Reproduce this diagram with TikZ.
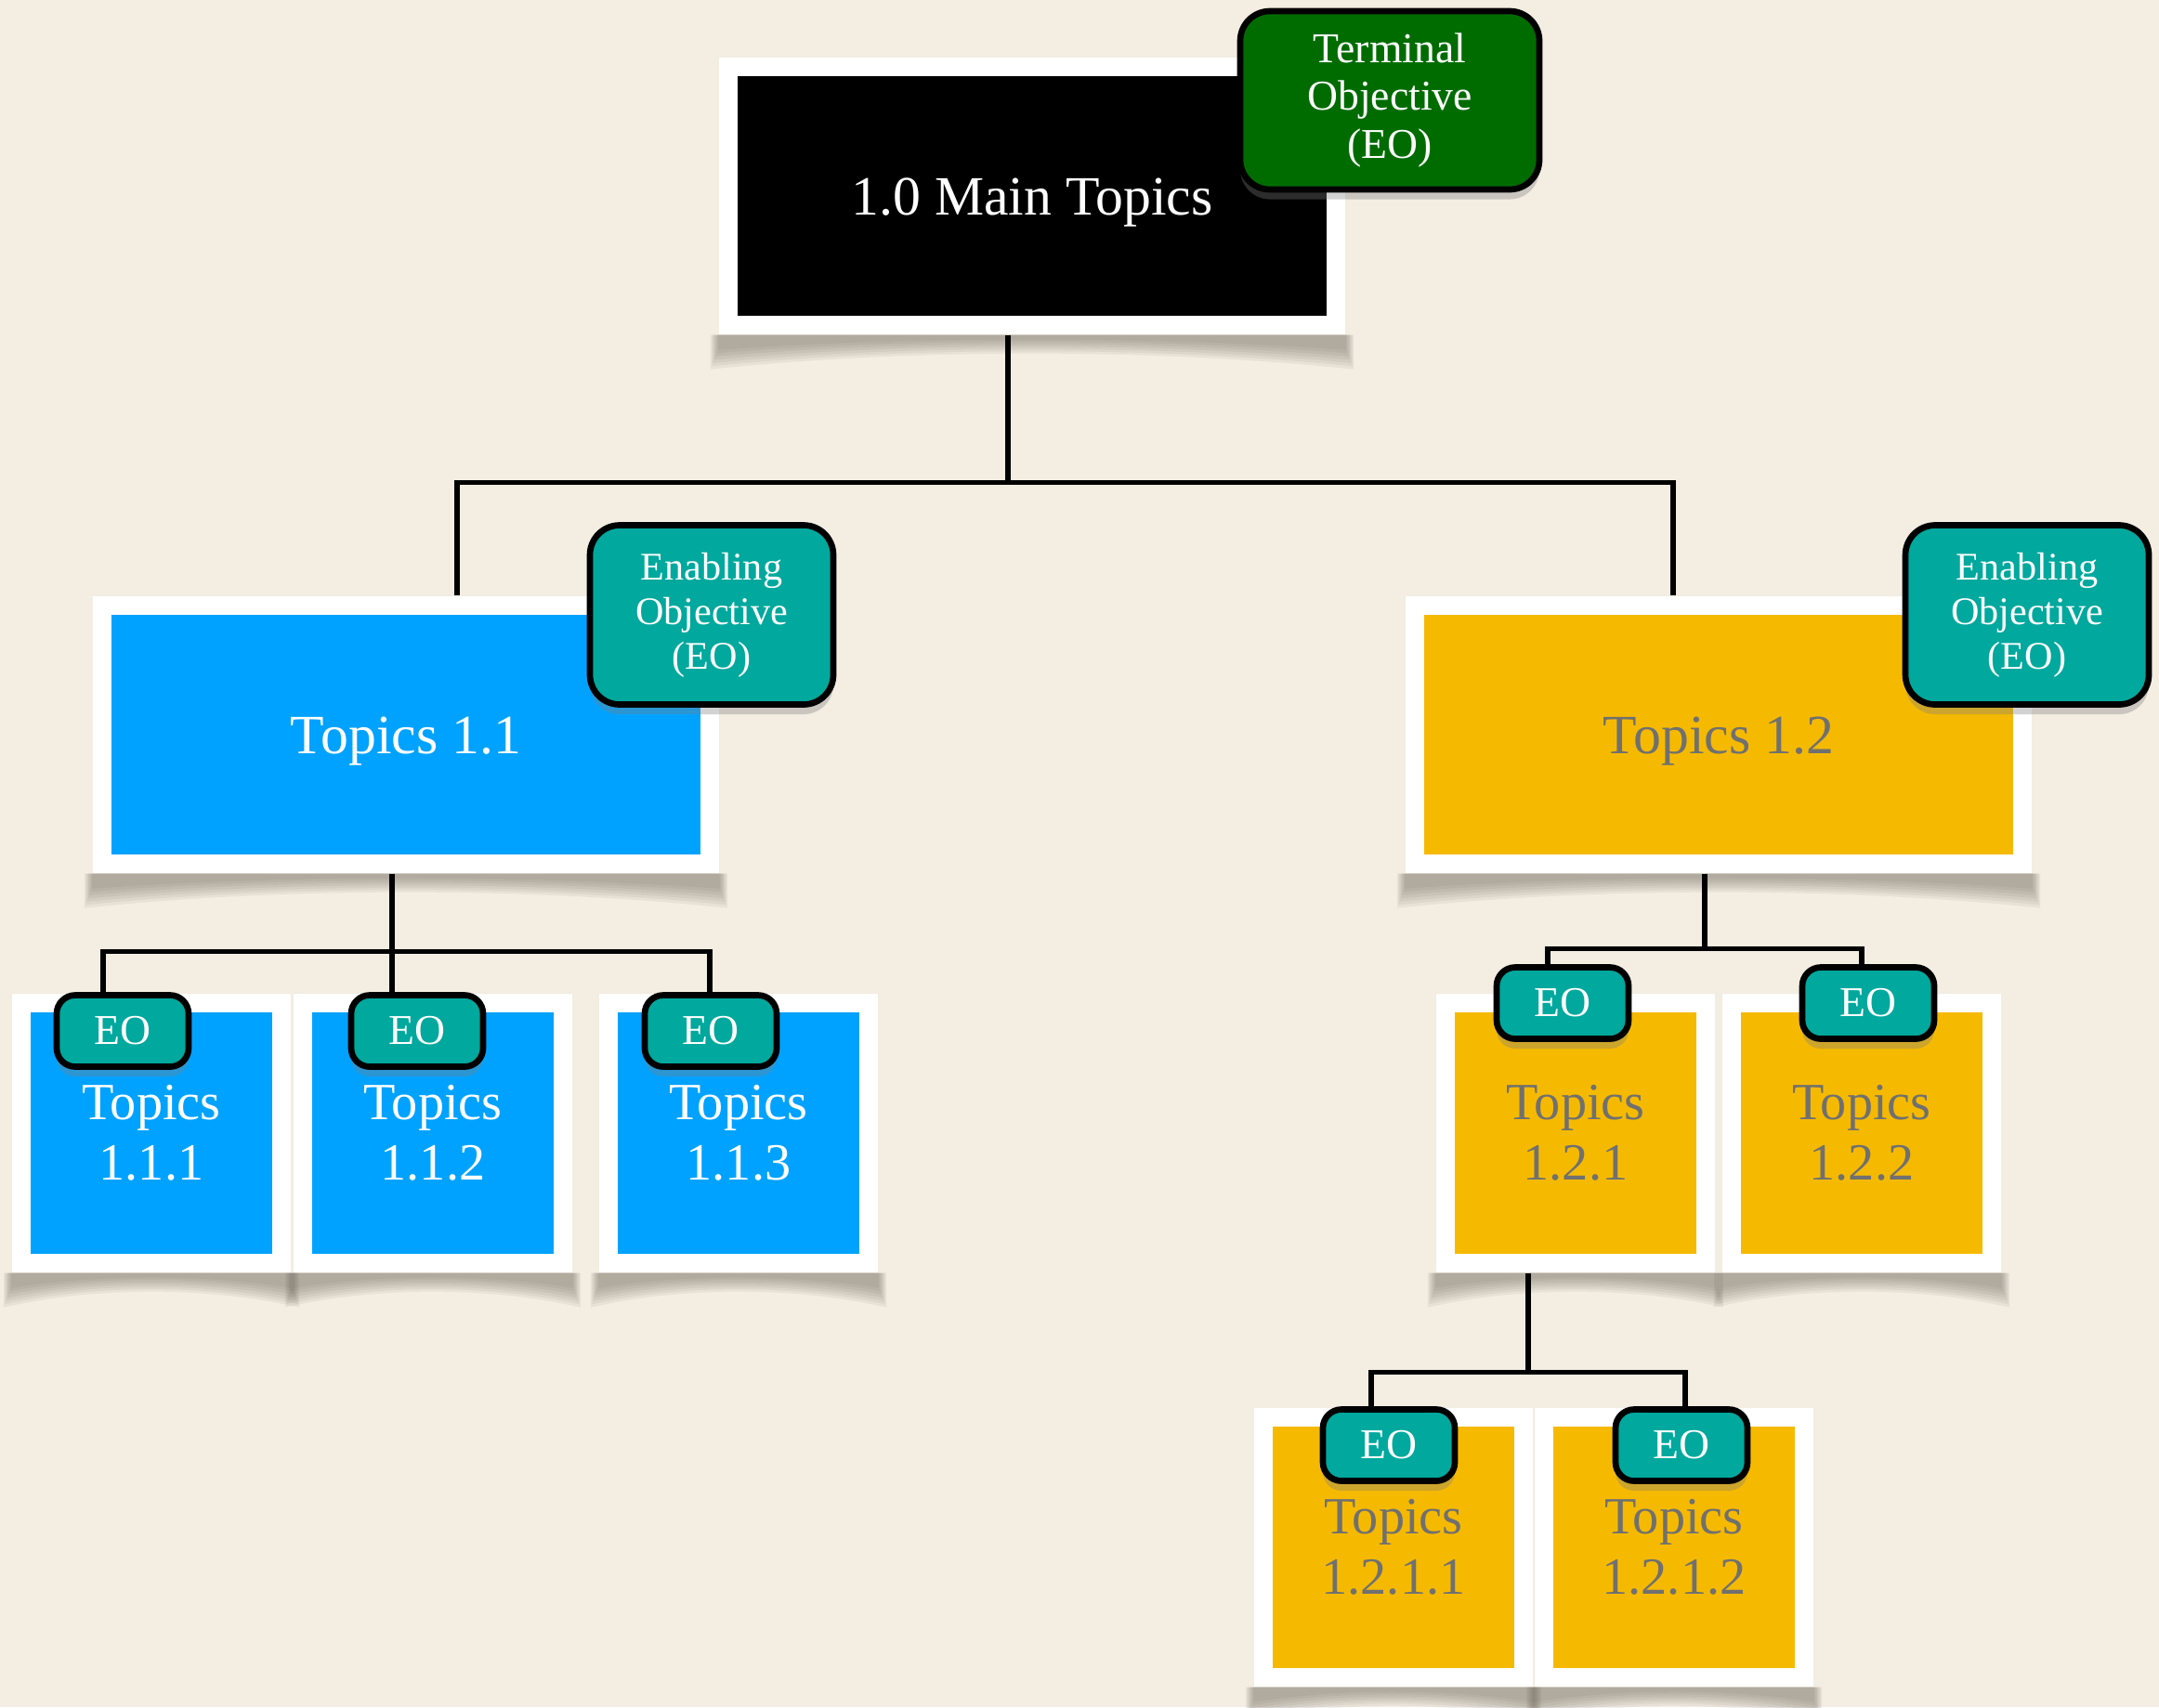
\documentclass[tikz,border=0pt]{standalone}
\usepackage{fontspec}
\setmainfont{Liberation Serif}
\usetikzlibrary{calc,shadows}
\definecolor{paper}{RGB}{243,237,226}
\definecolor{topicblue}{RGB}{0,162,255}
\definecolor{topicgold}{RGB}{245,186,0}
\definecolor{eoteal}{RGB}{0,168,157}
\definecolor{togreen}{RGB}{0,108,0}
\definecolor{inkgray}{RGB}{112,112,112}
\definecolor{curlgray}{RGB}{95,88,78}
\pgfdeclarelayer{bg}
\pgfdeclarelayer{shade}
\pgfsetlayers{bg,shade,main}

\tikzset{
  link/.style={line width=1.5pt},
  bigframe/.style={fill=white, inner sep=0pt, minimum width=6.74cm, minimum height=2.98cm},
  smallframe/.style={fill=white, inner sep=0pt, minimum width=3cm, minimum height=3cm},
  bigcard/.style={inner sep=0pt, minimum width=6.34cm, minimum height=2.58cm, text height=15.6pt, text depth=3.7pt, font=\fontsize{17}{20}\selectfont},
  smallcard/.style={inner sep=0pt, minimum width=2.6cm, minimum height=2.6cm, align=center, font=\fontsize{16}{18.5}\selectfont},
  bluecard/.style={fill=topicblue, text=white},
  goldcard/.style={fill=topicgold, text=inkgray},
  objbox/.style={draw=black, line width=1.9pt, rounded corners=0.32cm, text=white, align=center, inner sep=0pt,
    drop shadow={shadow xshift=0pt, shadow yshift=-3pt, opacity=.35}},
  bigobj/.style={objbox, fill=eoteal, minimum width=2.62cm, minimum height=1.93cm, font=\fontsize{12}{13.7}\selectfont},
  tag/.style={objbox, fill=eoteal, rounded corners=0.2cm, minimum width=1.42cm, minimum height=0.77cm, font=\fontsize{13}{15}\selectfont},
  curl/.style={fill=curlgray, opacity=.08}
}

\begin{document}
\begin{tikzpicture}
  \useasboundingbox (0,0) rectangle (23.24,-18.38);
  \begin{pgfonlayer}{bg}
    \fill[paper] (0,0) rectangle (23.24,-18.38);
  \end{pgfonlayer}

  % main topic
  \node[bigframe] (f0) at (11.11,-2.11) {};
  \node[bigcard, fill=black, text=white] (t0) at (f0) {1.0 Main Topics};
  \node[objbox, fill=togreen, minimum width=3.22cm, minimum height=1.92cm, font=\fontsize{13}{14.6}\selectfont] (to) at (14.96,-1.08) {Terminal\\Objective\\(EO)};

  % second level
  \node[bigframe] (f11) at (4.37,-7.91) {};
  \node[bigcard, bluecard] (t11) at (f11) {Topics 1.1};
  \node[bigobj] (e11) at (7.66,-6.62) {Enabling\\Objective\\(EO)};

  \node[bigframe] (f12) at (18.50,-7.91) {};
  \node[bigcard, goldcard] (t12) at (f12) {Topics 1.2};
  \node[bigobj] (e12) at (21.82,-6.62) {Enabling\\Objective\\(EO)};

  % third level
  \node[smallframe] (f111) at (1.63,-12.20) {};
  \node[smallcard, bluecard] (t111) at (f111) {Topics\\1.1.1};
  \node[smallframe] (f112) at (4.66,-12.20) {};
  \node[smallcard, bluecard] (t112) at (f112) {Topics\\1.1.2};
  \node[smallframe] (f113) at (7.95,-12.20) {};
  \node[smallcard, bluecard] (t113) at (f113) {Topics\\1.1.3};
  \node[tag] (e111) at (1.32,-11.10) {EO};
  \node[tag] (e112) at (4.49,-11.10) {EO};
  \node[tag] (e113) at (7.65,-11.10) {EO};

  \node[smallframe] (f121) at (16.96,-12.20) {};
  \node[smallcard, goldcard] (t121) at (f121) {Topics\\1.2.1};
  \node[smallframe] (f122) at (20.04,-12.20) {};
  \node[smallcard, goldcard] (t122) at (f122) {Topics\\1.2.2};
  \node[tag] (e121) at (16.82,-10.80) {EO};
  \node[tag] (e122) at (20.11,-10.80) {EO};

  % fourth level
  \node[smallframe] (f1211) at (15.00,-16.66) {};
  \node[smallcard, goldcard] (t1211) at (f1211) {Topics\\1.2.1.1};
  \node[smallframe] (f1212) at (18.02,-16.66) {};
  \node[smallcard, goldcard] (t1212) at (f1212) {Topics\\1.2.1.2};
  \node[tag] (e1211) at (14.95,-15.56) {EO};
  \node[tag] (e1212) at (18.10,-15.56) {EO};

  % curled shadows under the frames, stacked thin layers for a soft edge
  \begin{pgfonlayer}{shade}
    \foreach \f in {f0,f11,f12,f111,f112,f113,f121,f122,f1211,f1212}{
      \foreach \k in {0,...,6}{
        \fill[curl] ([xshift=-\k*0.4pt]\f.south west) -- ([xshift=-\k*0.4pt,yshift=-0.16cm-\k*0.035cm]\f.south west)
          .. controls ($(\f.south west)!0.3!(\f.south east)+(0,-0.01-\k*0.022)$) and ($(\f.south west)!0.7!(\f.south east)+(0,-0.01-\k*0.022)$)
          .. ([xshift=\k*0.4pt,yshift=-0.16cm-\k*0.035cm]\f.south east) -- ([xshift=\k*0.4pt]\f.south east) -- cycle;
      }
    }
  \end{pgfonlayer}

  % connectors
  \draw[link] ([xshift=-0.26cm]f0.south) -- ++(0,-1.59) coordinate (bus0);
  \draw[link] ([xshift=0.55cm]f11.north) |- (bus0) -| ([xshift=-0.49cm]f12.north);

  \draw[link] ([xshift=-0.15cm]f11.south) -- ++(0,-0.84) coordinate (bus11);
  \draw[link] ([xshift=-0.21cm]e111.north) |- (bus11) -| ([xshift=-0.01cm]e113.north);
  \draw[link] (bus11) -- (bus11 |- e112.north);

  \draw[link] ([xshift=-0.15cm]f12.south) -- ++(0,-0.81) coordinate (bus12);
  \draw[link] ([xshift=-0.16cm]e121.north) |- (bus12) -| ([xshift=-0.07cm]e122.north);

  \draw[link] ([xshift=-0.51cm]f121.south) -- ++(0,-1.07) coordinate (bus121);
  \draw[link] ([xshift=-0.19cm]e1211.north) |- (bus121) -| ([xshift=0.04cm]e1212.north);
\end{tikzpicture}
\end{document}
